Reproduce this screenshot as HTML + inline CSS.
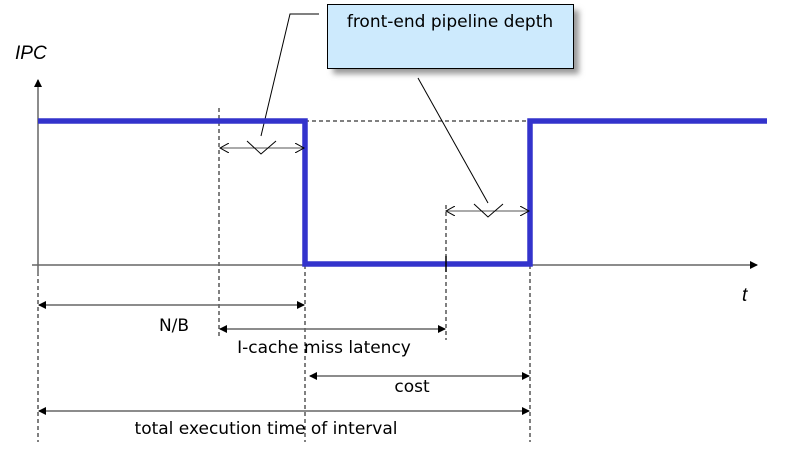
<!DOCTYPE html>
<html><head><meta charset="utf-8"><style>
html,body{margin:0;padding:0;background:#fff;width:785px;height:458px;overflow:hidden}
svg{display:block}
text{font-family:"DejaVu Sans","Liberation Sans",sans-serif;font-size:17px;fill:#000}
</style></head><body>
<svg width="785" height="458" viewBox="0 0 785 458" xmlns="http://www.w3.org/2000/svg">
<defs>
<marker id="fa" markerWidth="8" markerHeight="8" refX="7" refY="4" orient="auto-start-reverse" markerUnits="userSpaceOnUse"><path d="M0,0 L8,4 L0,8 z" fill="#000"/></marker>
<marker id="oa" markerWidth="10" markerHeight="10" refX="9" refY="5" orient="auto-start-reverse" markerUnits="userSpaceOnUse"><path d="M0,0 L9,5 L0,10" fill="none" stroke="#000" stroke-width="1"/></marker>
<filter id="sh" x="-10%" y="-20%" width="130%" height="160%"><feGaussianBlur stdDeviation="3"/></filter>
</defs>
<rect x="333" y="10" width="246" height="64" fill="#999" filter="url(#sh)"/>
<rect x="327.5" y="4.5" width="246" height="64" fill="#cdeafd" stroke="#000" stroke-width="1"/>
<text x="450" y="27" text-anchor="middle">front-end pipeline depth</text>
<polyline points="319,14 290,14 261,136" fill="none" stroke="#000" stroke-width="1"/>
<line x1="418" y1="78" x2="488" y2="203" stroke="#000" stroke-width="1"/>
<g stroke="#000" stroke-width="1" stroke-dasharray="4,3" fill="none">
<line x1="38" y1="265" x2="38" y2="442"/>
<line x1="219" y1="108" x2="219" y2="338"/>
<line x1="305" y1="265" x2="305" y2="442"/>
<line x1="446" y1="205" x2="446" y2="340"/>
<line x1="530" y1="265" x2="530" y2="442"/>
<line x1="305" y1="121" x2="530" y2="121"/>
</g>
<line x1="38" y1="275" x2="38" y2="80" stroke="#666" stroke-width="1.5" marker-end="url(#fa)"/>
<line x1="32" y1="265" x2="757" y2="265" stroke="#666" stroke-width="1.5" marker-end="url(#fa)"/>
<text x="15" y="59" style="font-family:'Liberation Sans',sans-serif;font-size:19px;font-style:italic">IPC</text>
<text x="742" y="301" style="font-family:'Liberation Sans',sans-serif;font-size:19px;font-style:italic">t</text>
<polyline points="38,121 305,121 305,264 530,264 530,121 767,121" fill="none" stroke="#3333cc" stroke-width="5.5"/>
<line x1="446" y1="256" x2="446" y2="272" stroke="#000" stroke-width="1.5"/>
<line x1="220" y1="148" x2="304" y2="148" stroke="#555" stroke-width="1" marker-start="url(#oa)" marker-end="url(#oa)"/>
<polyline points="247,141 261,154 276,141" fill="none" stroke="#000" stroke-width="1"/>
<line x1="446" y1="211" x2="529" y2="211" stroke="#555" stroke-width="1" marker-start="url(#oa)" marker-end="url(#oa)"/>
<polyline points="474,204 488,217 503,204" fill="none" stroke="#000" stroke-width="1"/>
<g stroke="#666" stroke-width="1.5">
<line x1="39" y1="305" x2="304" y2="305" marker-start="url(#fa)" marker-end="url(#fa)"/>
<line x1="220" y1="329" x2="445" y2="329" marker-start="url(#fa)" marker-end="url(#fa)"/>
<line x1="310" y1="376" x2="529" y2="376" marker-start="url(#fa)" marker-end="url(#fa)"/>
<line x1="39" y1="411" x2="529" y2="411" marker-start="url(#fa)" marker-end="url(#fa)"/>
</g>
<text x="174" y="331" text-anchor="middle">N/B</text>
<text x="324" y="353" text-anchor="middle">I-cache miss latency</text>
<text x="412" y="392" text-anchor="middle">cost</text>
<text x="266" y="434" text-anchor="middle">total execution time of interval</text>
</svg>
</body></html>
